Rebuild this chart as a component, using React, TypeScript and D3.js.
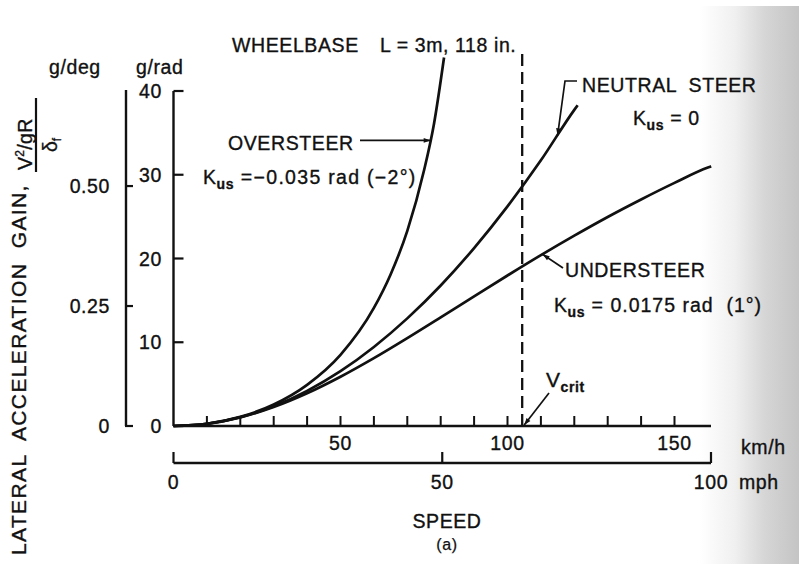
import React from "react";
import * as d3 from "d3";

// ---- data ----
const oversteerSpeed = [0, 10, 20, 30, 40, 50, 60, 65, 70, 75, 78, 81];
const oversteerGain = [0, 0.27, 1.09, 2.57, 4.92, 8.5, 14.1, 18.1, 23.3, 30.5, 36.1, 44.0];

const neutralSpeed = [0, 10, 20, 30, 40, 50, 60, 70, 80, 90, 100, 110, 120, 121];
const neutralGain = [0, 0.26, 1.05, 2.36, 4.2, 6.55, 9.44, 12.85, 16.78, 21.24, 26.22, 31.72, 37.75, 38.3];

const understeerSpeed = [0, 10, 20, 30, 40, 50, 60, 70, 80, 90, 100, 110, 120, 130, 140, 150, 160, 161];
const understeerGain = [0, 0.26, 1.03, 2.27, 3.91, 5.88, 8.1, 10.49, 12.97, 15.48, 17.97, 20.4, 22.73, 24.96, 27.05, 29.03, 30.86, 31.0];

const gRadTicks = [0, 10, 20, 30, 40];
const gDegTicks = [0, 0.25, 0.5];
const gDegTickLabels = ["0", "0.25", "0.50"];
const kmhMinorTicks = [10, 20, 30, 40, 50, 60, 70, 80, 90, 100, 110, 120, 130, 140, 150];
const kmhLabels = [50, 100, 150];
const mphTicks = [0, 50, 100];
const vCrit = 104.4; // km/h

const FONT = "'Liberation Sans', Arial, Helvetica, sans-serif";

export default function App() {
  const W = 799, H = 564;
  const x = d3.scaleLinear().domain([0, 160.93]).range([173.5, 711]);
  const xMph = d3.scaleLinear().domain([0, 100]).range([173.5, 711]);
  const y = d3.scaleLinear().domain([0, 40]).range([426, 91]);
  const yDeg = d3.scaleLinear().domain([0, 40 / 57.3]).range([426, 91]);

  const line = d3
    .line<[number, number]>()
    .x((d) => x(d[0]))
    .y((d) => y(d[1]))
    .curve(d3.curveMonotoneX);

  const series = [
    { s: oversteerSpeed, g: oversteerGain },
    { s: neutralSpeed, g: neutralGain },
    { s: understeerSpeed, g: understeerGain },
  ];

  const txt = {
    fontFamily: FONT,
    fontSize: 19.5,
    fill: "#111",
    stroke: "#111",
    strokeWidth: 0.35,
    letterSpacing: 0.6,
  } as React.CSSProperties;

  const Kus = ({ xx, yy, rest, ls }: { xx: number; yy: number; rest: string; ls: number }) => (
    <text x={xx} y={yy} style={{ ...txt, whiteSpace: "pre" }}>
      K
      <tspan dy={5} style={{ fontSize: 14, fontWeight: "bold" }}>us</tspan>
      <tspan dy={-5} style={{ letterSpacing: ls }}>{rest}</tspan>
    </text>
  );

  return (
    <svg
      width={W}
      height={H}
      style={{ position: "absolute", left: 0, top: 0, background: "#fff" }}
    >
      <defs>
        <linearGradient id="shade" x1="0" x2="1" y1="0" y2="0">
          <stop offset="0" stopColor="#ffffff" />
          <stop offset="0.35" stopColor="#f0f0f0" />
          <stop offset="0.65" stopColor="#d6d6d6" />
          <stop offset="1" stopColor="#c4c4c4" />
        </linearGradient>
        <marker id="arr" viewBox="0 0 10 10" refX="10" refY="5" markerWidth="10" markerHeight="7" orient="auto" markerUnits="userSpaceOnUse">
          <path d="M0,1.5 L10,5 L0,8.5 z" fill="#111" />
        </marker>
      </defs>
      <rect x={0} y={0} width={W} height={H} fill="#fff" />
      <rect x={700} y={6} width={W - 700} height={H - 6} fill="url(#shade)" />

      {/* curves */}
      {series.map((sr, i) => (
        <path
          key={i}
          d={line(sr.s.map((v, j) => [v, sr.g[j]] as [number, number])) || ""}
          fill="none"
          stroke="#111"
          strokeWidth={2.7}
        />
      ))}

      {/* critical speed dashed line */}
      <line x1={x(vCrit)} x2={x(vCrit)} y1={54} y2={y(0)} stroke="#111" strokeWidth={2.3} strokeDasharray="12 6" />

      {/* g/rad axis */}
      <line x1={x(0)} x2={x(0)} y1={y(40)} y2={y(0)} stroke="#111" strokeWidth={2.4} />
      {gRadTicks.map((t) => (
        <g key={t}>
          <line x1={x(0)} x2={x(0) + 10} y1={y(t)} y2={y(t)} stroke="#111" strokeWidth={2.2} />
          <text x={162} y={y(t) + 7} textAnchor="end" style={txt}>{t}</text>
        </g>
      ))}
      <text x={136} y={74} style={txt}>g/rad</text>

      {/* g/deg axis */}
      <line x1={126} x2={126} y1={yDeg(40 / 57.3) - 1} y2={yDeg(0)} stroke="#111" strokeWidth={2.4} />
      {gDegTicks.map((t, i) => (
        <g key={t}>
          <line x1={125} x2={133} y1={yDeg(t)} y2={yDeg(t)} stroke="#111" strokeWidth={2.2} />
          <text x={110} y={yDeg(t) + 7} textAnchor="end" style={txt}>{gDegTickLabels[i]}</text>
        </g>
      ))}
      <text x={49} y={74} style={txt}>g/deg</text>

      {/* km/h axis */}
      <line x1={x(0)} x2={x(160.93)} y1={y(0)} y2={y(0)} stroke="#111" strokeWidth={2.6} />
      {kmhMinorTicks.map((t) => (
        <line key={t} x1={x(t)} x2={x(t)} y1={y(0)} y2={y(0) - 10} stroke="#111" strokeWidth={2} />
      ))}
      {kmhLabels.map((t) => (
        <text key={t} x={x(t)} y={450} textAnchor="middle" style={txt}>{t}</text>
      ))}
      <text x={741} y={454} style={txt}>km/h</text>

      {/* mph axis */}
      <line x1={xMph(0)} x2={xMph(100)} y1={463} y2={463} stroke="#111" strokeWidth={2.4} />
      {mphTicks.map((t) => (
        <g key={t}>
          <line x1={xMph(t)} x2={xMph(t)} y1={463} y2={452} stroke="#111" strokeWidth={2.2} />
          <text x={xMph(t)} y={489} textAnchor="middle" style={txt}>{t}</text>
        </g>
      ))}
      <text x={739} y={489} style={txt}>mph</text>

      <text x={447} y={528} textAnchor="middle" style={txt}>SPEED</text>
      <text x={447} y={550} textAnchor="middle" style={{ ...txt, fontSize: 16, strokeWidth: 0.25 }}>(a)</text>

      {/* title */}
      <text x={232} y={52} style={txt}>WHEELBASE</text>
      <text x={380} y={52} style={txt}>L = 3m, 118 in.</text>

      {/* vertical axis title */}
      <g transform="translate(26,555) rotate(-90)">
        <text x={0} y={0} style={{ ...txt, fontSize: 21, whiteSpace: "pre" }} textLength={370} lengthAdjust="spacing">
          {"LATERAL  ACCELERATION  GAIN,"}
        </text>
      </g>
      <g transform="translate(32,170) rotate(-90)">
        <text x={0} y={0} style={{ ...txt, letterSpacing: 0.3 }}>
          V<tspan dy={-8} style={{ fontSize: 12 }}>2</tspan>
          <tspan dy={8}>/gR</tspan>
        </text>
      </g>
      <line x1={36} x2={36} y1={98} y2={172} stroke="#111" strokeWidth={2.2} />
      <g transform="translate(57,152) rotate(-90)">
        <text x={0} y={0} style={{ ...txt, letterSpacing: 0 }}>
          δ<tspan dy={4} style={{ fontSize: 12 }}>f</tspan>
        </text>
      </g>

      {/* annotations */}
      <text x={228} y={150} style={txt}>OVERSTEER</text>
      <line x1={360} y1={y(34.1)} x2={x(77)} y2={y(34.1)} stroke="#111" strokeWidth={1.7} markerEnd="url(#arr)" />
      <Kus xx={203} yy={184} rest={" =−0.035 rad (−2°)"} ls={1.3} />

      <text x={582} y={92} style={{ ...txt, whiteSpace: "pre" }}>{"NEUTRAL  STEER"}</text>
      <polyline
        points={`577,81 565,81 ${x(115)},${y(34.7)}`}
        fill="none"
        stroke="#111"
        strokeWidth={1.7}
        markerEnd="url(#arr)"
      />
      <Kus xx={633} yy={125} rest={" = 0"} ls={0.6} />

      <text x={565} y={277} style={txt}>UNDERSTEER</text>
      <line x1={563} y1={268} x2={x(110.5)} y2={y(20.5)} stroke="#111" strokeWidth={1.7} markerEnd="url(#arr)" />
      <Kus xx={554} yy={312} rest={" = 0.0175 rad  (1°)"} ls={1.0} />

      <text x={546} y={387} style={{ ...txt, fontSize: 21 }}>
        V<tspan dy={5} style={{ fontSize: 14, fontWeight: "bold" }}>crit</tspan>
      </text>
      <line x1={549} y1={393} x2={x(vCrit) + 2} y2={y(0) - 1} stroke="#111" strokeWidth={1.7} markerEnd="url(#arr)" />
    </svg>
  );
}
